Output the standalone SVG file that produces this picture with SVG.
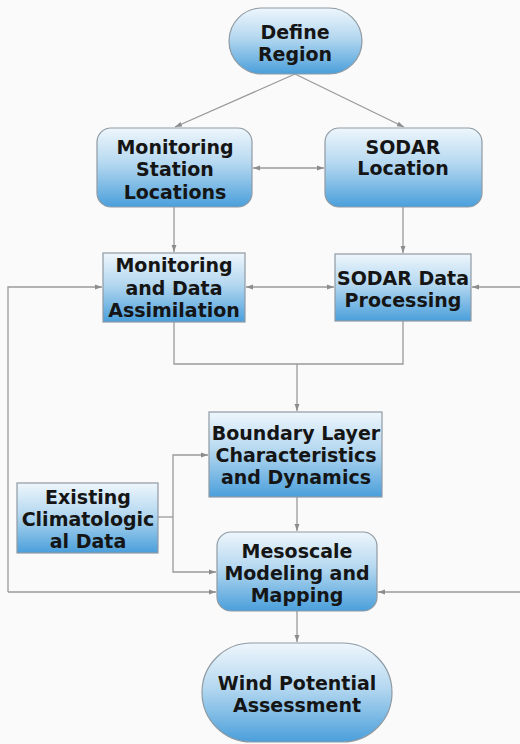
<svg xmlns="http://www.w3.org/2000/svg" width="520" height="744" viewBox="0 0 520 744">
<defs>
<linearGradient id="g" x1="0" y1="0" x2="0" y2="1">
<stop offset="0" stop-color="#eef6fc"/>
<stop offset="0.45" stop-color="#b5d8f0"/>
<stop offset="1" stop-color="#4a9fdb"/>
</linearGradient>
<marker id="ah" viewBox="0 0 10 10" refX="10" refY="5" markerWidth="7" markerHeight="7" orient="auto-start-reverse" markerUnits="userSpaceOnUse">
<path d="M0,1.5 L10,5 L0,8.5 z" fill="#8c8c8c"/>
</marker>
<style>
.n{fill:url(#g);stroke:#8f9aa3;stroke-width:1.2}
.t{font-family:"DejaVu Sans",Verdana,sans-serif;font-weight:bold;font-size:19px;fill:#151515;text-anchor:middle}
.c{fill:none;stroke:#9a9a9a;stroke-width:1.3}
</style>
</defs>
<rect width="520" height="744" fill="#fafafa"/>
<g id="connectors">
<path class="c" d="M295,74 L175,127" marker-end="url(#ah)"/>
<path class="c" d="M295,74 L404,127" marker-end="url(#ah)"/>
<path class="c" d="M253,168 L324,168" marker-start="url(#ah)" marker-end="url(#ah)"/>
<path class="c" d="M174,207 L174,252" marker-end="url(#ah)"/>
<path class="c" d="M403,207 L403,253" marker-end="url(#ah)"/>
<path class="c" d="M246,287 L334,287" marker-start="url(#ah)" marker-end="url(#ah)"/>
<path class="c" d="M8,592 L8,287 L102,287" marker-end="url(#ah)"/>
<path class="c" d="M8,592 L216,592" marker-end="url(#ah)"/>
<path class="c" d="M520,287 L472,287" marker-end="url(#ah)"/>
<path class="c" d="M520,592 L378,592" marker-end="url(#ah)"/>
<path class="c" d="M174,322 L174,364 L403,364 L403,321"/>
<path class="c" d="M297,364 L297,411" marker-end="url(#ah)"/>
<path class="c" d="M158,517 L173,517"/>
<path class="c" d="M173,517 L173,455 L208,455" marker-end="url(#ah)"/>
<path class="c" d="M173,517 L173,572 L216,572" marker-end="url(#ah)"/>
<path class="c" d="M297,497 L297,531" marker-end="url(#ah)"/>
<path class="c" d="M297,611 L297,642" marker-end="url(#ah)"/>
</g>
<g id="define-region">
<rect class="n" x="229" y="8" width="133" height="66" rx="33"/>
<text class="t" x="295" y="39">Define</text>
<text class="t" x="295" y="61">Region</text>
</g>
<g id="monitoring-station-locations">
<rect class="n" x="97" y="128" width="155" height="79" rx="14"/>
<text class="t" x="175" y="154">Monitoring</text>
<text class="t" x="175" y="176">Station</text>
<text class="t" x="175" y="199">Locations</text>
</g>
<g id="sodar-location">
<rect class="n" x="325" y="128" width="157" height="79" rx="14"/>
<text class="t" x="403" y="154">SODAR</text>
<text class="t" x="403" y="175">Location</text>
</g>
<g id="monitoring-data-assimilation">
<rect class="n" x="103" y="253" width="142" height="69"/>
<text class="t" x="174" y="272">Monitoring</text>
<text class="t" x="174" y="295">and Data</text>
<text class="t" x="174" y="317">Assimilation</text>
</g>
<g id="sodar-data-processing">
<rect class="n" x="335" y="254" width="136" height="67"/>
<text class="t" x="403" y="285">SODAR Data</text>
<text class="t" x="403" y="307">Processing</text>
</g>
<g id="boundary-layer">
<rect class="n" x="209" y="412" width="173" height="85"/>
<text class="t" x="296" y="440">Boundary Layer</text>
<text class="t" x="296" y="462">Characteristics</text>
<text class="t" x="296" y="484">and Dynamics</text>
</g>
<g id="existing-climatological-data">
<rect class="n" x="17" y="483" width="141" height="70"/>
<text class="t" x="88" y="504">Existing</text>
<text class="t" x="88" y="526">Climatologic</text>
<text class="t" x="88" y="548">al Data</text>
</g>
<g id="mesoscale-modeling">
<rect class="n" x="217" y="532" width="160" height="79" rx="14"/>
<text class="t" x="297" y="558">Mesoscale</text>
<text class="t" x="297" y="580">Modeling and</text>
<text class="t" x="297" y="602">Mapping</text>
</g>
<g id="wind-potential-assessment">
<rect class="n" x="202" y="643" width="190" height="99" rx="49.5"/>
<text class="t" x="297" y="690">Wind Potential</text>
<text class="t" x="297" y="712">Assessment</text>
</g>
</svg>
